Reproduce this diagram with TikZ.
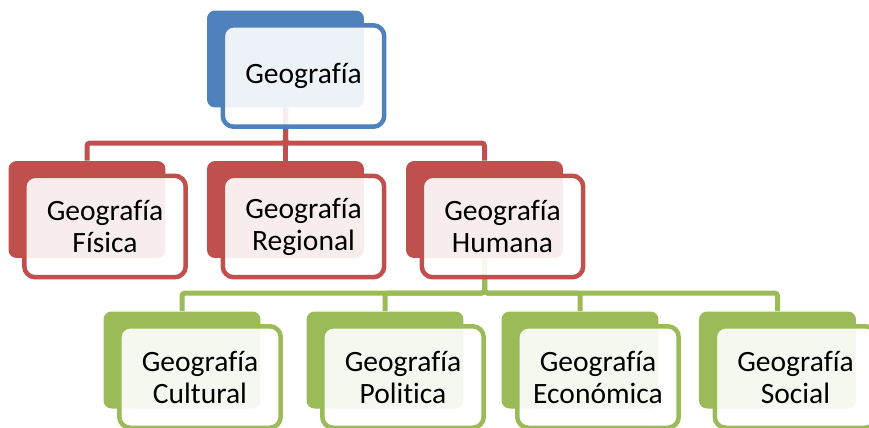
\documentclass[tikz,border=0pt]{standalone}
\usepackage{fontspec}
\setmainfont{Carlito}[Ligatures=NoCommon]
\definecolor{azul}{HTML}{4F81BD}
\definecolor{rojo}{HTML}{C0504D}
\definecolor{verde}{HTML}{9BBB59}

\begin{document}
\begin{tikzpicture}[x=0.02cm,y=-0.02cm,
  fondo/.style={fill=#1,rounded corners=0.16cm,minimum width=3.14cm,minimum height=1.94cm,inner sep=0pt},
  caja/.style={draw=#1,line width=0.09cm,fill=white,fill opacity=0.9,text opacity=1,rounded corners=0.22cm,
    minimum width=3.23cm,minimum height=2.03cm,inner sep=0pt,align=center,font=\fontsize{16.8}{18.2}\selectfont},
  enlace/.style={draw=#1,line width=0.1cm,rounded corners=0.06cm}]

\useasboundingbox (0,0) rectangle (869,427);
\clip (0,0) rectangle (869,427);

% Rueckseiten
\node[fondo=azul]  (Geo) at (285.5,59)  {};

\node[fondo=rojo]  (Fis) at (87,209.5)    {};
\node[fondo=rojo]  (Reg) at (285.5,209.5) {};
\node[fondo=rojo]  (Hum) at (484.5,209.5) {};

\node[fondo=verde] (Cul) at (182,360)   {};
\node[fondo=verde] (Pol) at (385,360)   {};
\node[fondo=verde] (Eco) at (580,360)   {};
\node[fondo=verde] (Soc) at (777.5,360) {};

% Verbindungen
\coordinate (barraR) at (0,143);
\coordinate (barraV) at (0,293);

\foreach \n in {Fis,Reg,Hum}
  \draw[enlace=rojo] (Geo.south) -- (Geo.south |- barraR) -| (\n.north);
\foreach \n in {Cul,Pol,Eco,Soc}
  \draw[enlace=verde] (Hum.south) -- (Hum.south |- barraV) -| (\n.north);

% Vorderseiten
\node[caja=azul]  (GeoT) at ([shift={(18,17)}]Geo) {Geograf\'ia};

\node[caja=rojo]  (FisT) at ([shift={(18,17)}]Fis) {Geograf\'ia\\F\'isica};
\node[caja=rojo]  (RegT) at ([shift={(18,17)}]Reg) {Geograf\'ia\\Regional};
\node[caja=rojo]  (HumT) at ([shift={(18,17)}]Hum) {Geograf\'ia\\Humana};

\node[caja=verde] (CulT) at ([shift={(18,17)}]Cul) {Geograf\'ia\\Cultural};
\node[caja=verde] (PolT) at ([shift={(18,17)}]Pol) {Geograf\'ia\\Politica};
\node[caja=verde] (EcoT) at ([shift={(18,17)}]Eco) {Geograf\'ia\\Econ\'omica};
\node[caja=verde] (SocT) at ([shift={(18,17)}]Soc) {Geograf\'ia\\Social};

\end{tikzpicture}
\end{document}
